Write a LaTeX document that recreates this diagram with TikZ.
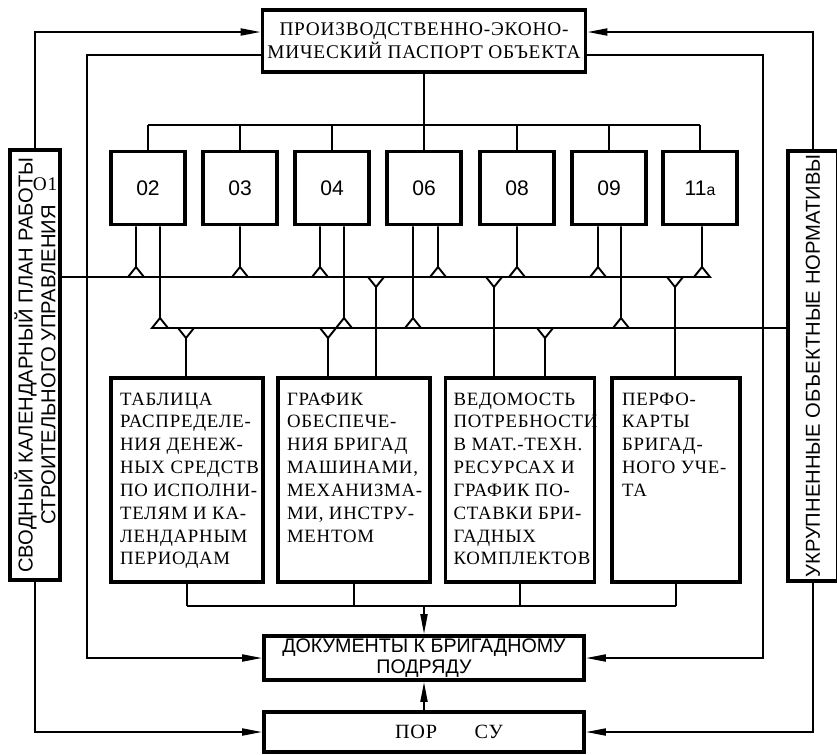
\documentclass[tikz,border=0pt]{standalone}
\usepackage{fontspec}
\setmainfont{Liberation Serif}[LetterSpace=4]
\newfontfamily\labelfont{Liberation Sans}
\usetikzlibrary{arrows.meta}

\begin{document}
\begin{tikzpicture}[x=0.02cm, y=-0.02cm,
        box/.style={draw, line width=2.2pt, inner sep=0pt},
        line/.style={line width=1.1pt},
        arr/.style={line width=1.1pt, -{Triangle[length=4mm, width=1.4mm]}},
        txt/.style={font=\fontsize{11}{13}\selectfont},
        num/.style={box, minimum width=1.48cm, minimum height=1.46cm, font=\labelfont\fontsize{12}{14}\selectfont},
        lbox/.style={box, font=\fontsize{10.7}{13}\selectfont, minimum height=4.08cm},
        side/.style={box, minimum width=1cm, minimum height=8.6cm},
        sidetxt/.style={rotate=90, align=center, font=\labelfont\fontsize{11.5}{13}\selectfont}]
    \useasboundingbox (0,0) rectangle (837,754);

    % top and bottom boxes
    \node[box, txt, minimum width=6.46cm, minimum height=1.24cm, align=center] (pasp) at (424,41)
        {ПРОИЗВОДСТВЕННО-ЭКОНО-\\МИЧЕСКИЙ ПАСПОРТ ОБЪЕКТА};
    \node[box, minimum width=6.4cm, minimum height=0.88cm, align=center,
        font=\labelfont\fontsize{11.2}{11.5}\selectfont] (docs) at (424,658)
        {ДОКУМЕНТЫ К БРИГАДНОМУ\\ПОДРЯДУ};
    \node[box, font=\fontsize{11.5}{13}\selectfont, minimum width=6.4cm, minimum height=0.8cm] (por) at (424,732)
        {\hspace*{1cm}ПОР\hspace{0.75cm}СУ};

    % side boxes
    \node[side] (svod) at (35,365) {};
    \node[sidetxt] (svodtxt) at (svod.center) {СВОДНЫЙ КАЛЕНДАРНЫЙ ПЛАН РАБОТЫ\\СТРОИТЕЛЬНОГО УПРАВЛЕНИЯ};
    \node[font=\fontsize{11}{13}\selectfont] (svodnum) at (45,184) {O1};
    \node[side] (ukr) at (813,366) {};
    \node[sidetxt] (ukrtxt) at (ukr.center) {УКРУПНЕННЫЕ ОБЪЕКТНЫЕ НОРМАТИВЫ};

    % numbered boxes
    \foreach \n/\x/\t in {02/148/02, 03/240/03, 04/332/04, 06/424/06, 08/517/08, 09/609/09, 11/700/{11{\fontsize{9}{10}\selectfont a}}}
        \node[num] (n\n) at (\x,188) {\t};

    % documents
    \node[lbox, minimum width=3.04cm] (tab) at (187,480)
        {\parbox[c][3.64cm][t]{2.68cm}{\begin{tabular}{@{}l@{}}ТАБЛИЦА\\РАСПРЕДЕЛЕ-\\НИЯ ДЕНЕЖ-\\НЫХ СРЕДСТВ\\ПО ИСПОЛНИ-\\ТЕЛЯМ И КА-\\ЛЕНДАРНЫМ\\ПЕРИОДАМ\end{tabular}}};
    \node[lbox, minimum width=3.04cm] (graf) at (354,480)
        {\parbox[c][3.64cm][t]{2.68cm}{\begin{tabular}{@{}l@{}}ГРАФИК\\ОБЕСПЕЧЕ-\\НИЯ БРИГАД\\МАШИНАМИ,\\МЕХАНИЗМА-\\МИ, ИНСТРУ-\\МЕНТОМ\end{tabular}}};
    \node[lbox, minimum width=2.98cm] (ved) at (520,480)
        {\parbox[c][3.64cm][t]{2.66cm}{\begin{tabular}{@{}l@{}}ВЕДОМОСТЬ\\ПОТРЕБНОСТИ\\В МАТ.-ТЕХН.\\РЕСУРСАХ И\\ГРАФИК ПО-\\СТАВКИ БРИ-\\ГАДНЫХ\\КОМПЛЕКТОВ\end{tabular}}};
    \node[lbox, minimum width=2.56cm] (perf) at (676,480)
        {\parbox[c][3.64cm][t]{2.16cm}{\begin{tabular}{@{}l@{}}ПЕРФО-\\КАРТЫ\\БРИГАД-\\НОГО УЧЕ-\\ТА\end{tabular}}};

    % top bus
    \draw[line] (pasp.south) -- (pasp.south |- 0,125);
    \draw[line] (n02.north |- 0,125) -- (n11.north |- 0,125);
    \foreach \n in {02,03,04,06,08,09,11}
        \draw[line] (n\n.north) -- (n\n.north |- 0,125);

    % two crossing buses
    \draw[line] (svod.east |- 0,277) -- (710,277);
    \draw[line] (152,328) -- (ukr.west |- 0,328);
    \foreach \x/\n in {136/02, 240/03, 320/04, 438/06, 517/08, 598/09, 702/11}
        \draw[line] (\x,0 |- n\n.south) -- (\x,267) (\x,267) -- (\x-8,277) -- (\x+8,277) -- cycle;
    \foreach \x/\n in {160/02, 344/04, 413/06, 621/09}
        \draw[line] (\x,0 |- n\n.south) -- (\x,318) (\x,318) -- (\x-8,328) -- (\x+8,328) -- cycle;
    \foreach \x/\b in {376/graf, 494/ved, 675/perf}
        \draw[line] (\x-8,277) -- (\x,287) -- (\x+8,277) (\x,287) -- (\x,0 |- \b.north);
    \foreach \x/\b in {186/tab, 328/graf, 545/ved}
        \draw[line] (\x-8,328) -- (\x,338) -- (\x+8,328) (\x,338) -- (\x,0 |- \b.north);

    % collector under the documents
    \foreach \b in {tab,graf,ved,perf}
        \draw[line] (\b.south) -- (\b.south |- 0,606);
    \draw[line] (tab.south |- 0,606) -- (perf.south |- 0,606);
    \draw[arr] (docs.north |- 0,606) -- (docs.north);
    \draw[arr] (por.north) -- (docs.south);

    % outer loops
    \draw[arr] (svod.north) |- ([yshift=0.18cm]pasp.west);
    \draw[arr] (ukr.north) |- ([yshift=0.18cm]pasp.east);
    \draw[arr] ([yshift=-0.28cm]pasp.west) -| (87,0 |- docs.west) -- (docs.west);
    \draw[arr] ([yshift=-0.28cm]pasp.east) -| (763,0 |- docs.east) -- (docs.east);
    \draw[arr] (svod.south) |- (por.west);
    \draw[arr] (ukr.south) |- (por.east);
\end{tikzpicture}
\end{document}
